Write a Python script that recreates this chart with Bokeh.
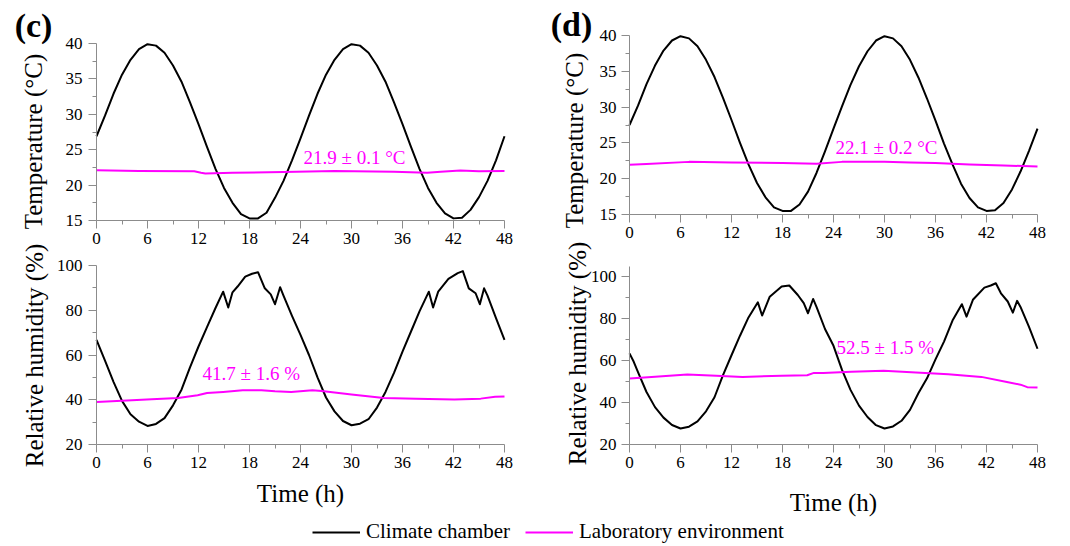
import math
from bokeh.plotting import figure
from bokeh.models import Range1d, FixedTicker, Label, Legend, LegendItem, LinearAxis
from bokeh.embed import file_html
from bokeh.resources import INLINE

# ---------------- data ----------------
hours = list(range(49))

c_temp_chamber = [26.9, 29.8, 32.9, 35.6, 37.7, 39.2, 39.9, 39.7, 38.7, 36.9, 34.6, 31.7, 28.6,
                  25.4, 22.3, 19.6, 17.5, 15.9, 15.3, 15.3, 16.1, 18.2, 20.6, 23.5, 26.6,
                  29.8, 32.9, 35.6, 37.7, 39.2, 39.9, 39.7, 38.7, 36.9, 34.6, 31.7, 28.6,
                  25.4, 22.3, 19.6, 17.5, 16.0, 15.3, 15.4, 16.5, 18.3, 20.6, 23.5, 26.9]
d_temp_chamber = [27.5, 30.2, 33.2, 35.8, 37.9, 39.3, 39.9, 39.6, 38.5, 36.6, 34.2, 31.3, 28.2,
                  25.0, 22.0, 19.4, 17.4, 16.0, 15.5, 15.5, 16.4, 18.2, 20.8, 23.8, 27.0,
                  30.1, 33.1, 35.7, 37.8, 39.3, 39.9, 39.6, 38.5, 36.6, 34.1, 31.2, 28.1,
                  24.9, 22.0, 19.3, 17.3, 16.0, 15.5, 15.6, 16.6, 18.5, 21.0, 23.9, 27.0]

c_temp_lab_t = [0, 5, 11.5, 12.3, 12.8, 16, 22, 28, 35, 38.9, 40.5, 42.8, 45, 48]
c_temp_lab = [22.1, 22.0, 21.95, 21.75, 21.65, 21.75, 21.85, 22.0, 21.9, 21.75, 21.9, 22.05, 21.95, 22.0]
d_temp_lab_t = [0, 2, 7, 12, 18, 22, 25, 30, 33, 36, 40, 44, 48]
d_temp_lab = [21.95, 22.05, 22.35, 22.25, 22.2, 22.1, 22.35, 22.35, 22.25, 22.2, 22.0, 21.85, 21.7]

c_rh_t = [0, 1, 2, 3, 4, 5, 6, 7, 8, 9, 10, 11, 12, 13, 14, 14.9, 15.5, 16, 16.6, 17.5, 18.3, 19,
          19.8, 20.5, 21, 21.6, 22, 23, 24, 25, 26, 27, 28, 29, 30, 31, 32, 33, 34, 35, 36, 37, 38,
          39.1, 39.6, 40.2, 41.4, 42.5, 43.1, 43.8, 44.6, 45.1, 45.6, 46, 47, 48]
c_rh_chamber = [66.8, 57.5, 48.0, 39.5, 33.5, 30.2, 28.3, 29.2, 31.8, 37.5, 44.5, 54.5, 63.8, 72.5,
                81.0, 88.3, 81.2, 88.0, 90.6, 95.0, 96.3, 97.0, 89.8, 87.1, 82.7, 90.3, 86.5, 77.5,
                69.0, 60.0, 50.0, 41.0, 34.8, 30.5, 28.6, 29.3, 31.3, 36.5, 43.5, 52.0, 61.5, 70.5,
                79.5, 88.3, 81.2, 88.3, 94.0, 96.6, 97.5, 89.8, 87.6, 82.7, 89.8, 86.5, 76.5, 66.8]
c_rh_lab_t = [0, 3, 6.5, 9.6, 11.9, 13, 14.9, 17.2, 19.4, 21, 22.9, 25.4, 26.5, 30, 33.8, 37.6,
              42.1, 45.2, 46.9, 48]
c_rh_lab = [39.0, 39.5, 40.2, 40.8, 42.0, 43.0, 43.5, 44.2, 44.2, 43.8, 43.5, 44.2, 43.9, 42.3,
            40.8, 40.5, 40.1, 40.5, 41.3, 41.5]

d_rh_t = [0, 0.5, 1, 2, 3, 4, 5, 6, 7, 8, 9, 10, 11, 12, 13, 14, 15.1, 15.6, 16.5, 17.9, 18.8,
          19.8, 20.5, 21.0, 21.6, 22, 23, 24, 25, 26, 27, 28, 29, 30, 31, 32, 33, 34, 35, 36, 37,
          38, 39.1, 39.65, 40.4, 41.75, 42.5, 43.1, 43.7, 44.5, 45.1, 45.6, 46, 47, 48]
d_rh_chamber = [63.4, 59.4, 54.5, 45.0, 37.8, 32.8, 29.3, 27.6, 28.5, 31.0, 35.8, 42.5, 53.0, 62.5,
                71.8, 80.5, 87.7, 81.4, 90.4, 95.2, 95.7, 91.2, 87.3, 82.5, 89.3, 85.5, 75.0, 67.0,
                55.5, 46.0, 38.5, 33.1, 29.2, 27.6, 28.6, 31.3, 36.5, 44.5, 51.5, 60.5, 69.0, 79.0,
                86.8, 80.9, 88.9, 94.7, 95.7, 96.8, 92.0, 88.1, 82.8, 88.4, 85.5, 76.0, 65.6]
d_rh_lab_t = [0, 2.6, 6.8, 10.2, 13.3, 17.9, 20.9, 21.7, 22.8, 26.1, 29.9, 33.7, 37.5, 41.4, 44.4,
              46, 46.8, 48]
d_rh_lab = [51.4, 52.2, 53.3, 52.7, 52.2, 52.7, 53.0, 54.1, 54.1, 54.6, 55.1, 54.3, 53.5, 52.2,
            49.8, 48.5, 47.3, 47.1]

x_ticks = [0, 6, 12, 18, 24, 30, 36, 42, 48]
x_minor = [3, 9, 15, 21, 27, 33, 39, 45]
t_ticks = [15, 20, 25, 30, 35, 40]
t_minor = [17.5, 22.5, 27.5, 32.5, 37.5]
rh_ticks = [20, 40, 60, 80, 100]
rh_minor = [30, 50, 70, 90]

series_names = ["Climate chamber", "Laboratory environment"]
annotations = ["21.9 \u00b1 0.1 \u00b0C", "41.7 \u00b1 1.6 %", "22.1 \u00b1 0.2 \u00b0C", "52.5 \u00b1 1.5 %"]
panel_tags = ["(c)", "(d)"]
y_titles = ["Temperature (\u00b0C)", "Relative humidity (%)"]
x_title = "Time (h)"

# ---------------- layout / style ----------------
W, H = 1070, 546
SERIF = "Liberation Serif"
BLACK = "#000000"
MAGENTA = "#ff00ff"
AXIS_GRAY = "#8c8c8c"


def x_range_for(p0, p1, v0=0.0, v1=48.0):
    k = (v1 - v0) / (p1 - p0)
    return Range1d(v0 - p0 * k, v0 + (W - p0) * k)


def y_range_for(p0, p1, v0, v1):
    # p0, p1: pixel rows (from top) of values v0, v1
    k = (v1 - v0) / (p0 - p1)
    return Range1d(v0 - (H - p0) * k, v0 + p0 * k)


p = figure(width=W, height=H, x_range=x_range_for(96, 504), y_range=y_range_for(220, 43, 15, 40),
           output_backend="svg", toolbar_location=None, x_axis_location=None, y_axis_location=None,
           min_border_left=0, min_border_right=0, min_border_top=0, min_border_bottom=0, title=None)
p.grid.visible = False
p.outline_line_color = None
p.background_fill_color = "white"
p.border_fill_color = "white"
p.extra_x_ranges = {"xd": x_range_for(629, 1037)}
p.extra_y_ranges = {"ycb": y_range_for(444, 265, 20, 100),
                    "ydt": y_range_for(214, 35, 15, 40),
                    "ydb": y_range_for(444, 276, 20, 100)}

panels = [
    # x range, y range, y bounds, y ticks, y minor
    ("default", "default", (15, 40), t_ticks, t_minor),
    ("default", "ycb", (20, 100), rh_ticks, rh_minor),
    ("xd", "ydt", (15, 40), t_ticks, t_minor),
    ("xd", "ydb", (20, 105), rh_ticks, rh_minor),
]


def style_axis(ax, standoff):
    ax.axis_line_color = AXIS_GRAY
    ax.major_tick_line_color = AXIS_GRAY
    ax.minor_tick_line_color = AXIS_GRAY
    ax.major_tick_out = 8
    ax.major_tick_in = 0
    ax.minor_tick_out = 4
    ax.minor_tick_in = 0
    ax.major_label_text_font = SERIF
    ax.major_label_text_font_size = "17px"
    ax.major_label_text_color = BLACK
    ax.major_label_standoff = standoff


for xn, yn, yb, yt, ym in panels:
    xa = LinearAxis(x_range_name=xn, y_range_name=yn, fixed_location=yb[0], bounds=(0, 48),
                    ticker=FixedTicker(ticks=x_ticks, minor_ticks=x_minor))
    style_axis(xa, 4)
    p.add_layout(xa, "below")
    ya = LinearAxis(x_range_name=xn, y_range_name=yn, fixed_location=0, bounds=yb,
                    ticker=FixedTicker(ticks=yt, minor_ticks=ym))
    style_axis(ya, 6 if xn == "default" else 5)
    p.add_layout(ya, "left")


def lines(xn, yn, t1, y1, t2, y2):
    r1 = p.line(t1, y1, line_color=BLACK, line_width=2, line_join="round", x_range_name=xn, y_range_name=yn)
    r2 = p.line(t2, y2, line_color=MAGENTA, line_width=2, line_join="round", x_range_name=xn, y_range_name=yn)
    return r1, r2


r_black, r_mag = lines("default", "default", hours, c_temp_chamber, c_temp_lab_t, c_temp_lab)
lines("default", "ycb", c_rh_t, c_rh_chamber, c_rh_lab_t, c_rh_lab)
lines("xd", "ydt", hours, d_temp_chamber, d_temp_lab_t, d_temp_lab)
lines("xd", "ydb", d_rh_t, d_rh_chamber, d_rh_lab_t, d_rh_lab)


def text_at(x, y_mid_from_top, txt, size, color=BLACK, style="normal", align="left", angle=0.0):
    p.add_layout(Label(x=x, y=H - y_mid_from_top, x_units="screen", y_units="screen", text=txt,
                       text_font=SERIF, text_font_size=size, text_font_style=style, text_color=color,
                       text_align=align, text_baseline="middle", angle=angle))


# magenta mean +/- sd notes
text_at(303, 156.5, annotations[0], "19px", MAGENTA)
text_at(202, 373, annotations[1], "19px", MAGENTA)
text_at(835, 146.5, annotations[2], "19px", MAGENTA)
text_at(836, 347, annotations[3], "19px", MAGENTA)

# panel tags
text_at(33, 25, panel_tags[0], "34px", style="bold", align="center")
text_at(571, 23.5, panel_tags[1], "34px", style="bold", align="center")

# axis titles
ROT = math.pi / 2
text_at(32.5, 141, y_titles[0], "25px", align="center", angle=ROT)
text_at(34, 355, y_titles[1], "25px", align="center", angle=ROT)
text_at(574, 140, y_titles[0], "25px", align="center", angle=ROT)
text_at(576.5, 353, y_titles[1], "25px", align="center", angle=ROT)
text_at(300, 492.5, x_title, "25px", align="center")
text_at(833, 501.5, x_title, "25px", align="center")

legend = Legend(items=[LegendItem(label=series_names[0], renderers=[r_black]),
                       LegendItem(label=series_names[1], renderers=[r_mag])],
                orientation="horizontal", location=(312, 2), padding=0, margin=0, spacing=15,
                glyph_width=48, glyph_height=24, label_standoff=6,
                label_text_font=SERIF, label_text_font_size="21px", label_text_color=BLACK,
                border_line_color=None, background_fill_alpha=0)
p.add_layout(legend, "center")

open("out.html", "w").write(file_html(p, INLINE))
